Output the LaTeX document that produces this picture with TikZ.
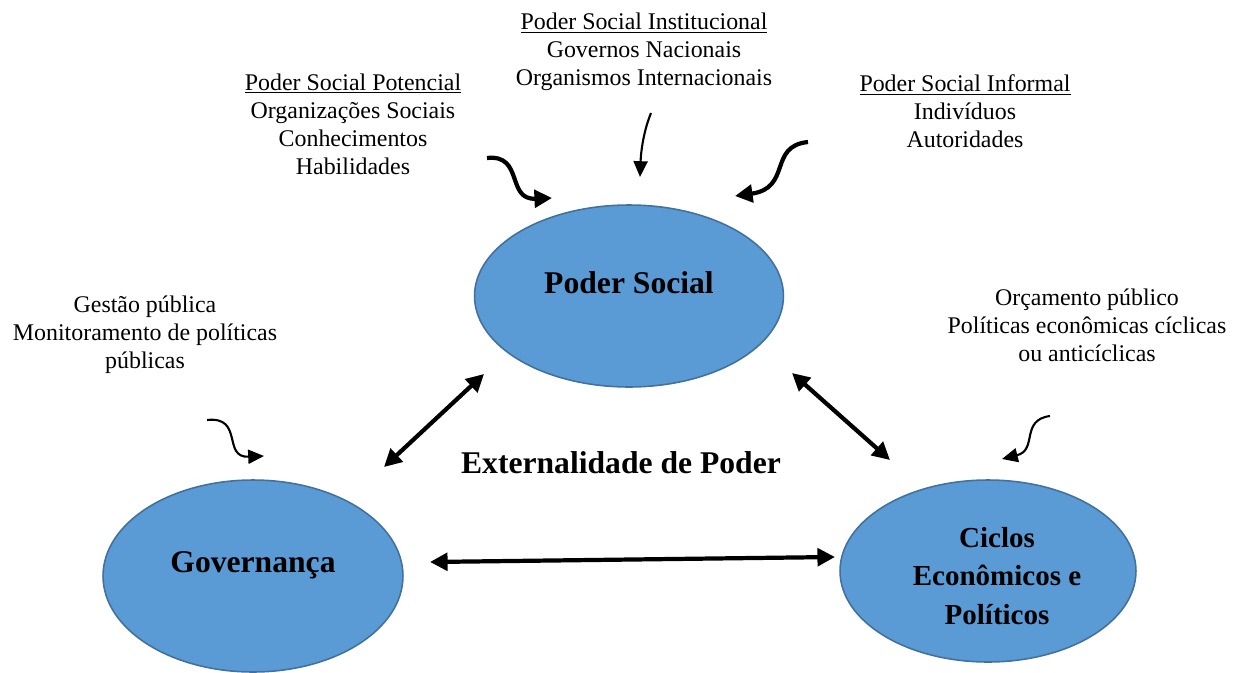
\documentclass[tikz,border=0pt]{standalone}
\usepackage{fontspec}
\setmainfont{Liberation Serif}
\usetikzlibrary{shapes,arrows.meta,positioning}

\definecolor{blobfill}{RGB}{91,155,213}
\definecolor{blobline}{RGB}{65,113,156}

\begin{document}
\begin{tikzpicture}[x=0.02cm,y=-0.02cm,
blob/.style={ellipse,draw=blobline,fill=blobfill,line width=0.9pt,inner sep=0pt},
title/.style={font=\fontsize{18}{22}\selectfont\bfseries,align=center,inner sep=0pt},
info/.style={font=\fontsize{13.6}{16}\selectfont,align=center,inner sep=0pt},
thickarrow/.style={-{Triangle[length=10pt,width=10pt]},line width=2.4pt},
thinarrow/.style={-{Triangle[length=9pt,width=8pt]},line width=1.2pt},
bothway/.style={{Triangle[length=10pt,width=10pt]}-{Triangle[length=10pt,width=10pt]},line width=2.4pt}
]
\useasboundingbox (0,0) rectangle (1235,673);

% the three blobs
\node[blob,minimum width=6.18cm,minimum height=3.64cm] (PS) at (629,296) {};
\node[blob,minimum width=6.0cm,minimum height=3.84cm] (Gov) at (253,576) {};
\node[blob,minimum width=5.92cm,minimum height=3.64cm] (Ciclos) at (988,571) {};
\node[title] (PSt) at (629,283) {Poder Social};
\node[title] (Govt) at (253,565) {Governança};
\node[title,font=\fontsize{16.5}{22}\selectfont\bfseries] (Ciclost) at (997,576) {Ciclos\\Econômicos e\\Políticos};
\node[title] (Ext) at (621,463) {Externalidade de Poder};

% the sources of power
\node[info] (Inst) at (644,52) {\underline{Poder Social Institucional}\\Governos Nacionais\\Organismos Internacionais};
\node[info] (Pot) at (353,124) {\underline{Poder Social Potencial}\\Organizações Sociais\\Conhecimentos\\Habilidades};
\node[info] (Inf) at (965,111) {\underline{Poder Social Informal}\\Indivíduos\\Autoridades};
\node[info] (Gest) at (145,335) {Gestão pública\\Monitoramento de políticas\\públicas};
\node[info] (Orc) at (1087,325) {Orçamento público\\Políticas econômicas cíclicas\\ou anticíclicas};

% arrow ends
\coordinate (a1) at (487,158); \coordinate (b1) at (552,198);
\coordinate (a2) at (651,113); \coordinate (b2) at (640,177);
\coordinate (a3) at (808,142); \coordinate (b3) at (735,196);
\coordinate (a4) at (207,420); \coordinate (b4) at (264,456);
\coordinate (a5) at (1050,416); \coordinate (b5) at (1002,459);

\draw[thickarrow] (a1) .. controls (524,154) and (506,200) .. (b1);
\draw[thinarrow] (a2) .. controls (644,130) and (641,150) .. (b2);
\draw[thickarrow] (a3) .. controls (768,146) and (792,188) .. (b3);
\draw[thinarrow] (a4) .. controls (244,416) and (222,458) .. (b4);
\draw[thinarrow] (a5) .. controls (1020,420) and (1038,450) .. (b5);

% externalities
\coordinate (p1) at (484,374); \coordinate (g1) at (384,467);
\coordinate (p2) at (792,373); \coordinate (c2) at (890,460);
\coordinate (g3) at (430,562); \coordinate (c3) at (835,557);
\draw[bothway] (p1) -- (g1);
\draw[bothway] (p2) -- (c2);
\draw[bothway] (g3) -- (c3);
\end{tikzpicture}
\end{document}
